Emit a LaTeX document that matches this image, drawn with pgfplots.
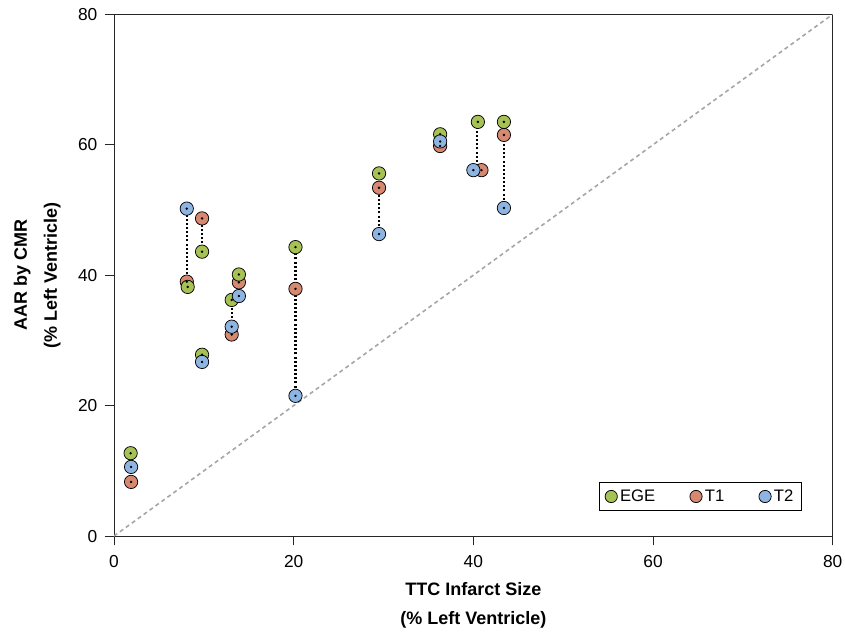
\documentclass[border=0pt]{standalone}
\usepackage{fontspec}
\setmainfont{Liberation Sans}
\usepackage{pgfplots}
\pgfplotsset{compat=1.18}
\definecolor{ege}{RGB}{166,193,84}
\definecolor{tone}{RGB}{214,136,112}
\definecolor{ttwo}{RGB}{142,181,226}
\definecolor{diag}{RGB}{165,165,172}
\begin{document}
\begin{tikzpicture}
\begin{axis}[
  scale only axis,
  width=539pt, height=391.3pt,
  xmin=0, xmax=80, ymin=0, ymax=80,
  xtick={0,20,40,60,80}, ytick={0,20,40,60,80},
  xtick pos=bottom, ytick pos=left,
  tick align=outside, major tick length=7pt,
  axis line style={black!85, line width=0.75pt},
  every tick/.style={black!85, line width=0.75pt},
  /pgf/number format/assume math mode=true,
  ticklabel style={font=\fontsize{13}{15.6}\selectfont},
  xticklabel style={yshift=-4.2pt},
  yticklabel style={xshift=-2pt},
  xlabel={TTC Infarct Size\\[5.5pt](\% Left Ventricle)},
  ylabel={AAR by CMR\\[6.5pt](\% Left Ventricle)},
  xlabel style={font=\bfseries\fontsize{13.5}{16}\selectfont, align=center, at={(axis description cs:0.5,0)}, anchor=center, yshift=-52pt},
  ylabel style={font=\bfseries\fontsize{13.5}{16}\selectfont, align=center, at={(axis description cs:0,0.5)}, anchor=center, yshift=57.5pt},
  legend columns=3,
  legend style={at={(axis description cs:1,0)}, anchor=south east, xshift=-23.25pt, yshift=18.75pt,
    draw=black, line width=0.6pt, font=\fontsize{12.5}{15}\selectfont, inner xsep=4pt, inner ysep=3.5pt,
    /tikz/every even column/.append style={column sep=24pt}},
  legend cell align=left,
  unbounded coords=jump,
]
\addlegendimage{only marks, mark=*, mark size=4.6pt, mark options={fill=ege, draw=black, line width=0.55pt}}
\addlegendentry{EGE}
\addlegendimage{only marks, mark=*, mark size=4.6pt, mark options={fill=tone, draw=black, line width=0.55pt}}
\addlegendentry{T1}
\addlegendimage{only marks, mark=*, mark size=4.6pt, mark options={fill=ttwo, draw=black, line width=0.55pt}}
\addlegendentry{T2}

\addplot[forget plot, diag, line width=1.2pt, dash pattern=on 3pt off 2.5pt] coordinates {(0,0) (80,80)};

% T1
\addplot[forget plot, only marks, mark=*, mark size=5pt, mark options={fill=tone, draw=black, line width=0.55pt}] coordinates {
(1.9,8.3) (8.1,39.0) (9.8,48.7) (13.1,30.9) (13.9,38.9) (20.2,37.9) (29.5,53.4) (36.3,59.8) (40.9,56.1) (43.4,61.5)};
% EGE
\addplot[forget plot, only marks, mark=*, mark size=5pt, mark options={fill=ege, draw=black, line width=0.55pt}] coordinates {
(1.85,12.7) (8.2,38.2) (9.8,43.6) (9.8,27.8) (13.1,36.2) (13.9,40.1) (20.2,44.3) (29.5,55.6) (36.3,61.6) (40.5,63.5) (43.4,63.5)};
% T2
\addplot[forget plot, only marks, mark=*, mark size=5pt, mark options={fill=ttwo, draw=black, line width=0.55pt}] coordinates {
(1.9,10.6) (8.1,50.2) (9.8,26.7) (13.1,32.1) (13.9,36.8) (20.2,21.5) (29.5,46.3) (36.3,60.5) (40.0,56.1) (43.4,50.3)};

% connecting dotted lines
\addplot[forget plot, black, line width=1.6pt, dash pattern=on 1.5pt off 1.6pt] coordinates {
(1.85,8.3) (1.85,12.7) (1.85,nan)
(8.1,38.2) (8.1,50.2) (8.1,nan)
(9.8,43.6) (9.8,48.7) (9.8,nan)
(9.8,26.7) (9.8,27.8) (9.8,nan)
(13.1,30.9) (13.1,36.2) (13.1,nan)
(13.9,36.8) (13.9,40.1) (13.9,nan)
(20.2,21.5) (20.2,44.3) (20.2,nan)
(29.5,46.3) (29.5,55.6) (29.5,nan)
(36.3,59.8) (36.3,61.6) (36.3,nan)
(40.4,56.1) (40.4,63.5) (40.4,nan)
(43.4,50.3) (43.4,63.5)};

% centre dots
\addplot[forget plot, only marks, mark=*, mark size=0.7pt, black] coordinates {
(1.9,8.3) (1.9,10.6) (1.85,12.7) (8.1,39.0) (8.1,50.2) (8.2,38.2) (9.8,48.7) (9.8,43.6) (9.8,27.8) (9.8,26.7)
(13.1,30.9) (13.1,32.1) (13.1,36.2) (13.9,38.9) (13.9,40.1) (13.9,36.8) (20.2,37.9) (20.2,44.3) (20.2,21.5)
(29.5,53.4) (29.5,55.6) (29.5,46.3) (36.3,59.8) (36.3,61.6) (36.3,60.5) (40.9,56.1) (40.0,56.1) (40.5,63.5)
(43.4,61.5) (43.4,63.5) (43.4,50.3)};

\coordinate (SW) at (rel axis cs:0,0);
\coordinate (NE) at (rel axis cs:1,1);
\end{axis}
\pgfresetboundingbox
\path[use as bounding box] ([xshift=-85.5pt,yshift=-71.25pt]SW) rectangle ([xshift=9.2pt,yshift=10.7pt]NE);
\end{tikzpicture}
\end{document}
